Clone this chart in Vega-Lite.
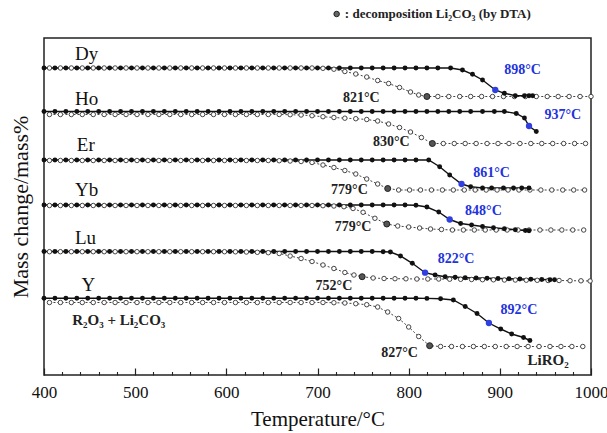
{
"$schema":"https://vega.github.io/schema/vega-lite/v6.json",
"width":547,"height":337,
"autosize":"none",
"padding":{"left":44,"top":38,"right":16,"bottom":58},
"background":"white",
"config":{"view":{"stroke":"#222","strokeWidth":1.5},"axis":{"grid":false},"font":"Liberation Serif"},
"datasets":{
"curves":[
{"s":"Dy","k":"f","t":400,"y":310},{"s":"Dy","k":"f","t":412,"y":310},{"s":"Dy","k":"f","t":424,"y":310},{"s":"Dy","k":"f","t":436,"y":310},{"s":"Dy","k":"f","t":448,"y":310},{"s":"Dy","k":"f","t":460,"y":310},{"s":"Dy","k":"f","t":472,"y":310},{"s":"Dy","k":"f","t":484,"y":310},{"s":"Dy","k":"f","t":496,"y":310},{"s":"Dy","k":"f","t":508,"y":310},{"s":"Dy","k":"f","t":520,"y":310},{"s":"Dy","k":"f","t":532,"y":310},{"s":"Dy","k":"f","t":544,"y":310},{"s":"Dy","k":"f","t":556,"y":310},{"s":"Dy","k":"f","t":568,"y":310},{"s":"Dy","k":"f","t":580,"y":310},{"s":"Dy","k":"f","t":592,"y":310},{"s":"Dy","k":"f","t":604,"y":310},{"s":"Dy","k":"f","t":616,"y":310},{"s":"Dy","k":"f","t":628,"y":310},{"s":"Dy","k":"f","t":640,"y":310},{"s":"Dy","k":"f","t":652,"y":310},{"s":"Dy","k":"f","t":664,"y":310},{"s":"Dy","k":"f","t":676,"y":310},{"s":"Dy","k":"f","t":688,"y":310},{"s":"Dy","k":"f","t":700,"y":310},{"s":"Dy","k":"f","t":712,"y":310},{"s":"Dy","k":"f","t":724,"y":310},{"s":"Dy","k":"f","t":736,"y":310},{"s":"Dy","k":"f","t":748,"y":310},{"s":"Dy","k":"f","t":760,"y":310},{"s":"Dy","k":"f","t":772,"y":310},{"s":"Dy","k":"f","t":784,"y":310},{"s":"Dy","k":"f","t":796,"y":310},{"s":"Dy","k":"f","t":808,"y":310},{"s":"Dy","k":"f","t":820,"y":310},{"s":"Dy","k":"f","t":832,"y":310},{"s":"Dy","k":"f","t":846,"y":310},{"s":"Dy","k":"f","t":859,"y":308},{"s":"Dy","k":"f","t":870,"y":303.7},{"s":"Dy","k":"f","t":881,"y":298},{"s":"Dy","k":"f","t":895,"y":288},{"s":"Dy","k":"f","t":905,"y":284.7},{"s":"Dy","k":"f","t":917,"y":282.3},{"s":"Dy","k":"f","t":927,"y":282.3},{"s":"Dy","k":"f","t":932,"y":282.3},{"s":"Dy","k":"f","t":936,"y":282.3},
{"s":"Dy","k":"o","t":406,"y":310},{"s":"Dy","k":"o","t":418,"y":310},{"s":"Dy","k":"o","t":430,"y":310},{"s":"Dy","k":"o","t":442,"y":310},{"s":"Dy","k":"o","t":454,"y":310},{"s":"Dy","k":"o","t":466,"y":310},{"s":"Dy","k":"o","t":478,"y":310},{"s":"Dy","k":"o","t":490,"y":310},{"s":"Dy","k":"o","t":502,"y":310},{"s":"Dy","k":"o","t":514,"y":310},{"s":"Dy","k":"o","t":526,"y":310},{"s":"Dy","k":"o","t":538,"y":310},{"s":"Dy","k":"o","t":550,"y":310},{"s":"Dy","k":"o","t":562,"y":310},{"s":"Dy","k":"o","t":574,"y":310},{"s":"Dy","k":"o","t":586,"y":310},{"s":"Dy","k":"o","t":598,"y":310},{"s":"Dy","k":"o","t":610,"y":310},{"s":"Dy","k":"o","t":622,"y":310},{"s":"Dy","k":"o","t":634,"y":310},{"s":"Dy","k":"o","t":646,"y":310},{"s":"Dy","k":"o","t":658,"y":310},{"s":"Dy","k":"o","t":670,"y":310},{"s":"Dy","k":"o","t":682,"y":310},{"s":"Dy","k":"o","t":694,"y":310},{"s":"Dy","k":"o","t":706,"y":309.7},{"s":"Dy","k":"o","t":718,"y":308.8},{"s":"Dy","k":"o","t":730,"y":306.5},{"s":"Dy","k":"o","t":742,"y":304},{"s":"Dy","k":"o","t":754,"y":301},{"s":"Dy","k":"o","t":766,"y":297.5},{"s":"Dy","k":"o","t":778,"y":294.5},{"s":"Dy","k":"o","t":790,"y":290.5},{"s":"Dy","k":"o","t":802,"y":286},{"s":"Dy","k":"o","t":811,"y":283},{"s":"Dy","k":"o","t":820,"y":281.5},{"s":"Dy","k":"o","t":832,"y":281.5},{"s":"Dy","k":"o","t":844,"y":281.5},{"s":"Dy","k":"o","t":856,"y":281.5},{"s":"Dy","k":"o","t":868,"y":281.5},{"s":"Dy","k":"o","t":880,"y":281.5},{"s":"Dy","k":"o","t":892,"y":281.5},{"s":"Dy","k":"o","t":904,"y":281.5},{"s":"Dy","k":"o","t":916,"y":281.5},{"s":"Dy","k":"o","t":928,"y":281.5},{"s":"Dy","k":"o","t":940,"y":281.5},{"s":"Dy","k":"o","t":952,"y":281.5},{"s":"Dy","k":"o","t":964,"y":281.5},{"s":"Dy","k":"o","t":976,"y":281.5},{"s":"Dy","k":"o","t":988,"y":281.5},{"s":"Dy","k":"o","t":1000,"y":281.5},
{"s":"Ho","k":"f","t":400,"y":266.5},{"s":"Ho","k":"f","t":412,"y":266.5},{"s":"Ho","k":"f","t":424,"y":266.5},{"s":"Ho","k":"f","t":436,"y":266.5},{"s":"Ho","k":"f","t":448,"y":266.5},{"s":"Ho","k":"f","t":460,"y":266.5},{"s":"Ho","k":"f","t":472,"y":266.5},{"s":"Ho","k":"f","t":484,"y":266.5},{"s":"Ho","k":"f","t":496,"y":266.5},{"s":"Ho","k":"f","t":508,"y":266.5},{"s":"Ho","k":"f","t":520,"y":266.5},{"s":"Ho","k":"f","t":532,"y":266.5},{"s":"Ho","k":"f","t":544,"y":266.5},{"s":"Ho","k":"f","t":556,"y":266.5},{"s":"Ho","k":"f","t":568,"y":266.5},{"s":"Ho","k":"f","t":580,"y":266.5},{"s":"Ho","k":"f","t":592,"y":266.5},{"s":"Ho","k":"f","t":604,"y":266.5},{"s":"Ho","k":"f","t":616,"y":266.5},{"s":"Ho","k":"f","t":628,"y":266.5},{"s":"Ho","k":"f","t":640,"y":266.5},{"s":"Ho","k":"f","t":652,"y":266.5},{"s":"Ho","k":"f","t":664,"y":266.5},{"s":"Ho","k":"f","t":676,"y":266.5},{"s":"Ho","k":"f","t":688,"y":266.5},{"s":"Ho","k":"f","t":700,"y":266.5},{"s":"Ho","k":"f","t":712,"y":266.5},{"s":"Ho","k":"f","t":724,"y":266.5},{"s":"Ho","k":"f","t":736,"y":266.5},{"s":"Ho","k":"f","t":748,"y":266.5},{"s":"Ho","k":"f","t":760,"y":266.5},{"s":"Ho","k":"f","t":772,"y":266.5},{"s":"Ho","k":"f","t":784,"y":266.5},{"s":"Ho","k":"f","t":796,"y":266.5},{"s":"Ho","k":"f","t":808,"y":266.5},{"s":"Ho","k":"f","t":820,"y":266.5},{"s":"Ho","k":"f","t":832,"y":266.5},{"s":"Ho","k":"f","t":844,"y":266.5},{"s":"Ho","k":"f","t":856,"y":266.5},{"s":"Ho","k":"f","t":868,"y":266.5},{"s":"Ho","k":"f","t":881,"y":266.5},{"s":"Ho","k":"f","t":894,"y":266.5},{"s":"Ho","k":"f","t":905,"y":266.5},{"s":"Ho","k":"f","t":918,"y":264.5},{"s":"Ho","k":"f","t":927,"y":260},{"s":"Ho","k":"f","t":932,"y":252},{"s":"Ho","k":"f","t":940,"y":246.5},
{"s":"Ho","k":"o","t":406,"y":263.5},{"s":"Ho","k":"o","t":418,"y":263.5},{"s":"Ho","k":"o","t":430,"y":263.5},{"s":"Ho","k":"o","t":442,"y":263.5},{"s":"Ho","k":"o","t":454,"y":263.5},{"s":"Ho","k":"o","t":466,"y":263.5},{"s":"Ho","k":"o","t":478,"y":263.5},{"s":"Ho","k":"o","t":490,"y":263.5},{"s":"Ho","k":"o","t":502,"y":263.5},{"s":"Ho","k":"o","t":514,"y":263.5},{"s":"Ho","k":"o","t":526,"y":263.5},{"s":"Ho","k":"o","t":538,"y":263.5},{"s":"Ho","k":"o","t":550,"y":263.5},{"s":"Ho","k":"o","t":562,"y":263.5},{"s":"Ho","k":"o","t":574,"y":263.5},{"s":"Ho","k":"o","t":586,"y":263.5},{"s":"Ho","k":"o","t":598,"y":263.5},{"s":"Ho","k":"o","t":610,"y":263.5},{"s":"Ho","k":"o","t":622,"y":263.5},{"s":"Ho","k":"o","t":634,"y":263.5},{"s":"Ho","k":"o","t":646,"y":263.5},{"s":"Ho","k":"o","t":658,"y":263.5},{"s":"Ho","k":"o","t":670,"y":263.3},{"s":"Ho","k":"o","t":682,"y":263},{"s":"Ho","k":"o","t":694,"y":262.3},{"s":"Ho","k":"o","t":706,"y":261.3},{"s":"Ho","k":"o","t":718,"y":260.5},{"s":"Ho","k":"o","t":730,"y":259.8},{"s":"Ho","k":"o","t":742,"y":259.3},{"s":"Ho","k":"o","t":754,"y":258.5},{"s":"Ho","k":"o","t":766,"y":257},{"s":"Ho","k":"o","t":778,"y":254},{"s":"Ho","k":"o","t":790,"y":250.5},{"s":"Ho","k":"o","t":802,"y":246},{"s":"Ho","k":"o","t":814,"y":240.5},{"s":"Ho","k":"o","t":826,"y":234.5},{"s":"Ho","k":"o","t":838,"y":234.5},{"s":"Ho","k":"o","t":850,"y":234.5},{"s":"Ho","k":"o","t":862,"y":234.5},{"s":"Ho","k":"o","t":874,"y":234.5},{"s":"Ho","k":"o","t":886,"y":234.5},{"s":"Ho","k":"o","t":898,"y":234.5},{"s":"Ho","k":"o","t":910,"y":234.5},{"s":"Ho","k":"o","t":922,"y":234.5},{"s":"Ho","k":"o","t":934,"y":234.5},{"s":"Ho","k":"o","t":946,"y":234.5},{"s":"Ho","k":"o","t":958,"y":234.5},{"s":"Ho","k":"o","t":970,"y":234.5},{"s":"Ho","k":"o","t":982,"y":234.5},{"s":"Ho","k":"o","t":994,"y":234.5},
{"s":"Er","k":"f","t":400,"y":218},{"s":"Er","k":"f","t":412,"y":218},{"s":"Er","k":"f","t":424,"y":218},{"s":"Er","k":"f","t":436,"y":218},{"s":"Er","k":"f","t":448,"y":218},{"s":"Er","k":"f","t":460,"y":218},{"s":"Er","k":"f","t":472,"y":218},{"s":"Er","k":"f","t":484,"y":218},{"s":"Er","k":"f","t":496,"y":218},{"s":"Er","k":"f","t":508,"y":218},{"s":"Er","k":"f","t":520,"y":218},{"s":"Er","k":"f","t":532,"y":218},{"s":"Er","k":"f","t":544,"y":218},{"s":"Er","k":"f","t":556,"y":218},{"s":"Er","k":"f","t":568,"y":218},{"s":"Er","k":"f","t":580,"y":218},{"s":"Er","k":"f","t":592,"y":218},{"s":"Er","k":"f","t":604,"y":218},{"s":"Er","k":"f","t":616,"y":218},{"s":"Er","k":"f","t":628,"y":218},{"s":"Er","k":"f","t":640,"y":218},{"s":"Er","k":"f","t":652,"y":218},{"s":"Er","k":"f","t":664,"y":218},{"s":"Er","k":"f","t":676,"y":218},{"s":"Er","k":"f","t":688,"y":218},{"s":"Er","k":"f","t":700,"y":218},{"s":"Er","k":"f","t":712,"y":218},{"s":"Er","k":"f","t":724,"y":218},{"s":"Er","k":"f","t":736,"y":218},{"s":"Er","k":"f","t":748,"y":218},{"s":"Er","k":"f","t":760,"y":218},{"s":"Er","k":"f","t":772,"y":218},{"s":"Er","k":"f","t":784,"y":218},{"s":"Er","k":"f","t":796,"y":218},{"s":"Er","k":"f","t":808,"y":218},{"s":"Er","k":"f","t":822,"y":218},{"s":"Er","k":"f","t":834,"y":211.3},{"s":"Er","k":"f","t":845,"y":203},{"s":"Er","k":"f","t":858,"y":194},{"s":"Er","k":"f","t":868,"y":191.3},{"s":"Er","k":"f","t":881,"y":190},{"s":"Er","k":"f","t":891,"y":190},{"s":"Er","k":"f","t":904,"y":190},{"s":"Er","k":"f","t":915,"y":190},{"s":"Er","k":"f","t":924,"y":190},{"s":"Er","k":"f","t":932,"y":190},
{"s":"Er","k":"o","t":406,"y":217.5},{"s":"Er","k":"o","t":418,"y":217.5},{"s":"Er","k":"o","t":430,"y":217.5},{"s":"Er","k":"o","t":442,"y":217.5},{"s":"Er","k":"o","t":454,"y":217.5},{"s":"Er","k":"o","t":466,"y":217.5},{"s":"Er","k":"o","t":478,"y":217.5},{"s":"Er","k":"o","t":490,"y":217.5},{"s":"Er","k":"o","t":502,"y":217.5},{"s":"Er","k":"o","t":514,"y":217.5},{"s":"Er","k":"o","t":526,"y":217.5},{"s":"Er","k":"o","t":538,"y":217.5},{"s":"Er","k":"o","t":550,"y":217.5},{"s":"Er","k":"o","t":562,"y":217.5},{"s":"Er","k":"o","t":574,"y":217.5},{"s":"Er","k":"o","t":586,"y":217.5},{"s":"Er","k":"o","t":598,"y":217.5},{"s":"Er","k":"o","t":610,"y":217.5},{"s":"Er","k":"o","t":622,"y":217.5},{"s":"Er","k":"o","t":634,"y":217.5},{"s":"Er","k":"o","t":646,"y":217.5},{"s":"Er","k":"o","t":658,"y":217.3},{"s":"Er","k":"o","t":670,"y":217},{"s":"Er","k":"o","t":682,"y":216.5},{"s":"Er","k":"o","t":694,"y":215.5},{"s":"Er","k":"o","t":706,"y":213},{"s":"Er","k":"o","t":718,"y":210.5},{"s":"Er","k":"o","t":730,"y":207.5},{"s":"Er","k":"o","t":742,"y":204},{"s":"Er","k":"o","t":754,"y":199},{"s":"Er","k":"o","t":766,"y":194},{"s":"Er","k":"o","t":777,"y":189.5},{"s":"Er","k":"o","t":789,"y":188},{"s":"Er","k":"o","t":801,"y":188},{"s":"Er","k":"o","t":813,"y":188},{"s":"Er","k":"o","t":825,"y":188},{"s":"Er","k":"o","t":837,"y":188},{"s":"Er","k":"o","t":849,"y":188},{"s":"Er","k":"o","t":861,"y":188},{"s":"Er","k":"o","t":873,"y":188},{"s":"Er","k":"o","t":885,"y":188},{"s":"Er","k":"o","t":897,"y":188},{"s":"Er","k":"o","t":909,"y":188},{"s":"Er","k":"o","t":921,"y":188},{"s":"Er","k":"o","t":933,"y":188},{"s":"Er","k":"o","t":945,"y":188},{"s":"Er","k":"o","t":957,"y":188},{"s":"Er","k":"o","t":969,"y":188},{"s":"Er","k":"o","t":981,"y":188},{"s":"Er","k":"o","t":993,"y":188},
{"s":"Yb","k":"f","t":400,"y":173},{"s":"Yb","k":"f","t":412,"y":173},{"s":"Yb","k":"f","t":424,"y":173},{"s":"Yb","k":"f","t":436,"y":173},{"s":"Yb","k":"f","t":448,"y":173},{"s":"Yb","k":"f","t":460,"y":173},{"s":"Yb","k":"f","t":472,"y":173},{"s":"Yb","k":"f","t":484,"y":173},{"s":"Yb","k":"f","t":496,"y":173},{"s":"Yb","k":"f","t":508,"y":173},{"s":"Yb","k":"f","t":520,"y":173},{"s":"Yb","k":"f","t":532,"y":173},{"s":"Yb","k":"f","t":544,"y":173},{"s":"Yb","k":"f","t":556,"y":173},{"s":"Yb","k":"f","t":568,"y":173},{"s":"Yb","k":"f","t":580,"y":173},{"s":"Yb","k":"f","t":592,"y":173},{"s":"Yb","k":"f","t":604,"y":173},{"s":"Yb","k":"f","t":616,"y":173},{"s":"Yb","k":"f","t":628,"y":173},{"s":"Yb","k":"f","t":640,"y":173},{"s":"Yb","k":"f","t":652,"y":173},{"s":"Yb","k":"f","t":664,"y":173},{"s":"Yb","k":"f","t":676,"y":173},{"s":"Yb","k":"f","t":688,"y":173},{"s":"Yb","k":"f","t":700,"y":173},{"s":"Yb","k":"f","t":712,"y":173},{"s":"Yb","k":"f","t":724,"y":173},{"s":"Yb","k":"f","t":736,"y":173},{"s":"Yb","k":"f","t":748,"y":173},{"s":"Yb","k":"f","t":760,"y":173},{"s":"Yb","k":"f","t":772,"y":173},{"s":"Yb","k":"f","t":784,"y":173},{"s":"Yb","k":"f","t":796,"y":173},{"s":"Yb","k":"f","t":808,"y":172.8},{"s":"Yb","k":"f","t":820,"y":171},{"s":"Yb","k":"f","t":833,"y":166},{"s":"Yb","k":"f","t":845,"y":158.5},{"s":"Yb","k":"f","t":857,"y":154.5},{"s":"Yb","k":"f","t":869,"y":153},{"s":"Yb","k":"f","t":881,"y":151.5},{"s":"Yb","k":"f","t":893,"y":150.3},{"s":"Yb","k":"f","t":905,"y":149.3},{"s":"Yb","k":"f","t":917,"y":148.3},{"s":"Yb","k":"f","t":928,"y":147.5},{"s":"Yb","k":"f","t":932,"y":147.3},
{"s":"Yb","k":"o","t":406,"y":172.5},{"s":"Yb","k":"o","t":418,"y":172.5},{"s":"Yb","k":"o","t":430,"y":172.5},{"s":"Yb","k":"o","t":442,"y":172.5},{"s":"Yb","k":"o","t":454,"y":172.5},{"s":"Yb","k":"o","t":466,"y":172.5},{"s":"Yb","k":"o","t":478,"y":172.5},{"s":"Yb","k":"o","t":490,"y":172.5},{"s":"Yb","k":"o","t":502,"y":172.5},{"s":"Yb","k":"o","t":514,"y":172.5},{"s":"Yb","k":"o","t":526,"y":172.5},{"s":"Yb","k":"o","t":538,"y":172.5},{"s":"Yb","k":"o","t":550,"y":172.5},{"s":"Yb","k":"o","t":562,"y":172.5},{"s":"Yb","k":"o","t":574,"y":172.5},{"s":"Yb","k":"o","t":586,"y":172.5},{"s":"Yb","k":"o","t":598,"y":172.5},{"s":"Yb","k":"o","t":610,"y":172.5},{"s":"Yb","k":"o","t":622,"y":172.5},{"s":"Yb","k":"o","t":634,"y":172.5},{"s":"Yb","k":"o","t":646,"y":172.5},{"s":"Yb","k":"o","t":658,"y":172.5},{"s":"Yb","k":"o","t":670,"y":172.5},{"s":"Yb","k":"o","t":682,"y":172.5},{"s":"Yb","k":"o","t":694,"y":172.5},{"s":"Yb","k":"o","t":706,"y":172.3},{"s":"Yb","k":"o","t":718,"y":172},{"s":"Yb","k":"o","t":729,"y":171.3},{"s":"Yb","k":"o","t":739,"y":169.5},{"s":"Yb","k":"o","t":750,"y":165.7},{"s":"Yb","k":"o","t":763,"y":159.7},{"s":"Yb","k":"o","t":776,"y":154},{"s":"Yb","k":"o","t":788,"y":152},{"s":"Yb","k":"o","t":800,"y":151},{"s":"Yb","k":"o","t":812,"y":150},{"s":"Yb","k":"o","t":824,"y":149},{"s":"Yb","k":"o","t":836,"y":148.5},{"s":"Yb","k":"o","t":848,"y":148},{"s":"Yb","k":"o","t":860,"y":148},{"s":"Yb","k":"o","t":872,"y":148},{"s":"Yb","k":"o","t":884,"y":148},{"s":"Yb","k":"o","t":896,"y":148},{"s":"Yb","k":"o","t":908,"y":148},{"s":"Yb","k":"o","t":920,"y":148},{"s":"Yb","k":"o","t":932,"y":148},{"s":"Yb","k":"o","t":944,"y":148},{"s":"Yb","k":"o","t":956,"y":148},{"s":"Yb","k":"o","t":968,"y":148},{"s":"Yb","k":"o","t":980,"y":148},{"s":"Yb","k":"o","t":992,"y":148},
{"s":"Lu","k":"f","t":400,"y":126.5},{"s":"Lu","k":"f","t":412,"y":126.5},{"s":"Lu","k":"f","t":424,"y":126.5},{"s":"Lu","k":"f","t":436,"y":126.5},{"s":"Lu","k":"f","t":448,"y":126.5},{"s":"Lu","k":"f","t":460,"y":126.5},{"s":"Lu","k":"f","t":472,"y":126.5},{"s":"Lu","k":"f","t":484,"y":126.5},{"s":"Lu","k":"f","t":496,"y":126.5},{"s":"Lu","k":"f","t":508,"y":126.5},{"s":"Lu","k":"f","t":520,"y":126.5},{"s":"Lu","k":"f","t":532,"y":126.5},{"s":"Lu","k":"f","t":544,"y":126.5},{"s":"Lu","k":"f","t":556,"y":126.5},{"s":"Lu","k":"f","t":568,"y":126.5},{"s":"Lu","k":"f","t":580,"y":126.5},{"s":"Lu","k":"f","t":592,"y":126.5},{"s":"Lu","k":"f","t":604,"y":126.5},{"s":"Lu","k":"f","t":616,"y":126.5},{"s":"Lu","k":"f","t":628,"y":126.5},{"s":"Lu","k":"f","t":640,"y":126.5},{"s":"Lu","k":"f","t":652,"y":126.5},{"s":"Lu","k":"f","t":664,"y":126.5},{"s":"Lu","k":"f","t":676,"y":126.5},{"s":"Lu","k":"f","t":688,"y":126.5},{"s":"Lu","k":"f","t":700,"y":126.5},{"s":"Lu","k":"f","t":712,"y":126.5},{"s":"Lu","k":"f","t":724,"y":126.5},{"s":"Lu","k":"f","t":736,"y":126.5},{"s":"Lu","k":"f","t":748,"y":126.5},{"s":"Lu","k":"f","t":760,"y":126.5},{"s":"Lu","k":"f","t":772,"y":126.3},{"s":"Lu","k":"f","t":780,"y":126},{"s":"Lu","k":"f","t":791,"y":122},{"s":"Lu","k":"f","t":804,"y":114.7},{"s":"Lu","k":"f","t":818,"y":105.3},{"s":"Lu","k":"f","t":829,"y":103},{"s":"Lu","k":"f","t":840,"y":101.3},{"s":"Lu","k":"f","t":851,"y":100.7},{"s":"Lu","k":"f","t":862,"y":100.3},{"s":"Lu","k":"f","t":874,"y":100},{"s":"Lu","k":"f","t":886,"y":99.7},{"s":"Lu","k":"f","t":898,"y":99.5},{"s":"Lu","k":"f","t":910,"y":99.2},{"s":"Lu","k":"f","t":922,"y":99},{"s":"Lu","k":"f","t":934,"y":98.7},{"s":"Lu","k":"f","t":946,"y":98.5},{"s":"Lu","k":"f","t":955,"y":98.3},{"s":"Lu","k":"f","t":960,"y":98.3},
{"s":"Lu","k":"o","t":406,"y":126.3},{"s":"Lu","k":"o","t":418,"y":126.3},{"s":"Lu","k":"o","t":430,"y":126.3},{"s":"Lu","k":"o","t":442,"y":126.3},{"s":"Lu","k":"o","t":454,"y":126.3},{"s":"Lu","k":"o","t":466,"y":126.3},{"s":"Lu","k":"o","t":478,"y":126.3},{"s":"Lu","k":"o","t":490,"y":126.3},{"s":"Lu","k":"o","t":502,"y":126.3},{"s":"Lu","k":"o","t":514,"y":126.3},{"s":"Lu","k":"o","t":526,"y":126.3},{"s":"Lu","k":"o","t":538,"y":126.3},{"s":"Lu","k":"o","t":550,"y":126.3},{"s":"Lu","k":"o","t":562,"y":126.3},{"s":"Lu","k":"o","t":574,"y":126.3},{"s":"Lu","k":"o","t":586,"y":126.3},{"s":"Lu","k":"o","t":598,"y":126.3},{"s":"Lu","k":"o","t":610,"y":126.2},{"s":"Lu","k":"o","t":622,"y":126},{"s":"Lu","k":"o","t":634,"y":125.7},{"s":"Lu","k":"o","t":646,"y":125.3},{"s":"Lu","k":"o","t":658,"y":124.5},{"s":"Lu","k":"o","t":670,"y":122},{"s":"Lu","k":"o","t":682,"y":119.5},{"s":"Lu","k":"o","t":694,"y":116.5},{"s":"Lu","k":"o","t":706,"y":113},{"s":"Lu","k":"o","t":718,"y":109.5},{"s":"Lu","k":"o","t":730,"y":105.5},{"s":"Lu","k":"o","t":740,"y":103},{"s":"Lu","k":"o","t":749,"y":101.3},{"s":"Lu","k":"o","t":761,"y":100},{"s":"Lu","k":"o","t":773,"y":99.5},{"s":"Lu","k":"o","t":785,"y":99.3},{"s":"Lu","k":"o","t":797,"y":99.2},{"s":"Lu","k":"o","t":809,"y":99},{"s":"Lu","k":"o","t":821,"y":99},{"s":"Lu","k":"o","t":833,"y":99},{"s":"Lu","k":"o","t":845,"y":98.8},{"s":"Lu","k":"o","t":857,"y":98.7},{"s":"Lu","k":"o","t":869,"y":98.5},{"s":"Lu","k":"o","t":881,"y":98.3},{"s":"Lu","k":"o","t":893,"y":98.2},{"s":"Lu","k":"o","t":905,"y":98},{"s":"Lu","k":"o","t":917,"y":98},{"s":"Lu","k":"o","t":929,"y":97.8},{"s":"Lu","k":"o","t":941,"y":97.7},{"s":"Lu","k":"o","t":953,"y":97.5},{"s":"Lu","k":"o","t":965,"y":97.5},{"s":"Lu","k":"o","t":977,"y":97.3},{"s":"Lu","k":"o","t":989,"y":97.2},{"s":"Lu","k":"o","t":999,"y":97},
{"s":"Y","k":"f","t":400,"y":79.7},{"s":"Y","k":"f","t":412,"y":79.7},{"s":"Y","k":"f","t":424,"y":79.7},{"s":"Y","k":"f","t":436,"y":79.7},{"s":"Y","k":"f","t":448,"y":79.7},{"s":"Y","k":"f","t":460,"y":79.7},{"s":"Y","k":"f","t":472,"y":79.7},{"s":"Y","k":"f","t":484,"y":79.7},{"s":"Y","k":"f","t":496,"y":79.7},{"s":"Y","k":"f","t":508,"y":79.7},{"s":"Y","k":"f","t":520,"y":79.7},{"s":"Y","k":"f","t":532,"y":79.7},{"s":"Y","k":"f","t":544,"y":79.7},{"s":"Y","k":"f","t":556,"y":79.7},{"s":"Y","k":"f","t":568,"y":79.7},{"s":"Y","k":"f","t":580,"y":79.7},{"s":"Y","k":"f","t":592,"y":79.7},{"s":"Y","k":"f","t":604,"y":79.7},{"s":"Y","k":"f","t":616,"y":79.7},{"s":"Y","k":"f","t":628,"y":79.7},{"s":"Y","k":"f","t":640,"y":79.7},{"s":"Y","k":"f","t":652,"y":79.7},{"s":"Y","k":"f","t":664,"y":79.7},{"s":"Y","k":"f","t":676,"y":79.7},{"s":"Y","k":"f","t":688,"y":79.7},{"s":"Y","k":"f","t":700,"y":79.7},{"s":"Y","k":"f","t":712,"y":79.7},{"s":"Y","k":"f","t":724,"y":79.7},{"s":"Y","k":"f","t":736,"y":79.7},{"s":"Y","k":"f","t":748,"y":79.7},{"s":"Y","k":"f","t":760,"y":79.7},{"s":"Y","k":"f","t":772,"y":79.7},{"s":"Y","k":"f","t":784,"y":79.7},{"s":"Y","k":"f","t":796,"y":79.7},{"s":"Y","k":"f","t":808,"y":79.7},{"s":"Y","k":"f","t":820,"y":79.6},{"s":"Y","k":"f","t":835,"y":79.3},{"s":"Y","k":"f","t":849,"y":78},{"s":"Y","k":"f","t":862,"y":71.5},{"s":"Y","k":"f","t":875,"y":64.5},{"s":"Y","k":"f","t":888,"y":55},{"s":"Y","k":"f","t":901,"y":49},{"s":"Y","k":"f","t":913,"y":44},{"s":"Y","k":"f","t":926,"y":40.5},{"s":"Y","k":"f","t":933,"y":37.5},
{"s":"Y","k":"o","t":406,"y":75.5},{"s":"Y","k":"o","t":418,"y":75.5},{"s":"Y","k":"o","t":430,"y":75.5},{"s":"Y","k":"o","t":442,"y":75.5},{"s":"Y","k":"o","t":454,"y":75.5},{"s":"Y","k":"o","t":466,"y":75.5},{"s":"Y","k":"o","t":478,"y":75.5},{"s":"Y","k":"o","t":490,"y":75.5},{"s":"Y","k":"o","t":502,"y":75.5},{"s":"Y","k":"o","t":514,"y":75.5},{"s":"Y","k":"o","t":526,"y":75.5},{"s":"Y","k":"o","t":538,"y":75.5},{"s":"Y","k":"o","t":550,"y":75.5},{"s":"Y","k":"o","t":562,"y":75.5},{"s":"Y","k":"o","t":574,"y":75.5},{"s":"Y","k":"o","t":586,"y":75.5},{"s":"Y","k":"o","t":598,"y":75.5},{"s":"Y","k":"o","t":610,"y":75.5},{"s":"Y","k":"o","t":622,"y":75.5},{"s":"Y","k":"o","t":634,"y":75.5},{"s":"Y","k":"o","t":646,"y":75.5},{"s":"Y","k":"o","t":658,"y":75.5},{"s":"Y","k":"o","t":670,"y":75.5},{"s":"Y","k":"o","t":682,"y":75.5},{"s":"Y","k":"o","t":694,"y":75.5},{"s":"Y","k":"o","t":706,"y":75.5},{"s":"Y","k":"o","t":718,"y":75.3},{"s":"Y","k":"o","t":730,"y":75},{"s":"Y","k":"o","t":742,"y":74.3},{"s":"Y","k":"o","t":754,"y":73.3},{"s":"Y","k":"o","t":766,"y":71},{"s":"Y","k":"o","t":777,"y":66},{"s":"Y","k":"o","t":789,"y":59.5},{"s":"Y","k":"o","t":800,"y":51},{"s":"Y","k":"o","t":811,"y":41.5},{"s":"Y","k":"o","t":823,"y":32.3},{"s":"Y","k":"o","t":835,"y":31.5},{"s":"Y","k":"o","t":847,"y":31.5},{"s":"Y","k":"o","t":859,"y":31.5},{"s":"Y","k":"o","t":871,"y":31.5},{"s":"Y","k":"o","t":883,"y":31.5},{"s":"Y","k":"o","t":895,"y":31.5},{"s":"Y","k":"o","t":907,"y":31.5},{"s":"Y","k":"o","t":919,"y":31.5},{"s":"Y","k":"o","t":931,"y":31.5},{"s":"Y","k":"o","t":943,"y":31.5},{"s":"Y","k":"o","t":955,"y":31.5},{"s":"Y","k":"o","t":967,"y":31.5},{"s":"Y","k":"o","t":979,"y":31.5},{"s":"Y","k":"o","t":991,"y":31.5}
],
"inflection":[{"s":"Dy","t":895,"y":288},{"s":"Ho","t":932,"y":252},{"s":"Er","t":858,"y":194},{"s":"Yb","t":845,"y":158.5},{"s":"Lu","t":818,"y":105.3},{"s":"Y","t":888,"y":55}],
"decomposition":[{"s":"Dy","t":820,"y":281.5},{"s":"Ho","t":826,"y":234.5},{"s":"Er","t":777,"y":189.5},{"s":"Yb","t":776,"y":154},{"s":"Lu","t":749,"y":101.3},{"s":"Y","t":823,"y":32.3}],
"names":[{"txt":"Dy","t":434,"y":324},{"txt":"Ho","t":434,"y":279},{"txt":"Er","t":436,"y":233},{"txt":"Yb","t":434,"y":188},{"txt":"Lu","t":434,"y":140},{"txt":"Y","t":441,"y":93}],
"temps":[
{"txt":"898°C","kind":"inflection","t":925,"y":308},{"txt":"937°C","kind":"inflection","t":969,"y":263},{"txt":"861°C","kind":"inflection","t":891,"y":205},{"txt":"848°C","kind":"inflection","t":882,"y":167},{"txt":"822°C","kind":"inflection","t":852,"y":119},{"txt":"892°C","kind":"inflection","t":921,"y":68},
{"txt":"821°C","kind":"decomposition","t":748,"y":280},{"txt":"830°C","kind":"decomposition","t":781,"y":236},{"txt":"779°C","kind":"decomposition","t":735,"y":188},{"txt":"779°C","kind":"decomposition","t":739,"y":151},{"txt":"752°C","kind":"decomposition","t":718,"y":92},{"txt":"827°C","kind":"decomposition","t":790,"y":25}
],
"notes":[{"txt":"R₂O₃ + Li₂CO₃","t":482,"y":58},{"txt":"LiRO₂","t":953,"y":18}],
"legend":[{"txt":": decomposition Li₂CO₃ (by DTA)","t":730,"y":364}],
"legendDot":[{"t":721,"y":364}]
},
"layer":[
{"data":{"name":"curves"},"transform":[{"filter":"datum.k === 'o'"}],
 "mark":{"type":"line","color":"#444","strokeWidth":1,"strokeDash":[2,2]},
 "encoding":{
  "x":{"field":"t","type":"quantitative","scale":{"domain":[400,1000],"nice":false,"zero":false},
   "axis":{"values":[400,500,600,700,800,900,1000],"format":"d","title":"Temperature/°C","domain":false,"tickSize":-7,"tickColor":"#222","tickWidth":1.2,"labelPadding":16,"labelFont":"Liberation Serif","labelFontSize":17,"labelColor":"#111","labelFlush":false,"labelOverlap":false,"titleFont":"Liberation Serif","titleFontSize":21,"titleFontWeight":"normal","titleColor":"#111","titlePadding":8,"orient":"bottom"}},
  "y":{"field":"y","type":"quantitative","scale":{"domain":[3,340],"nice":false,"zero":false},
   "axis":{"title":"Mass change/mass%","domain":false,"ticks":false,"labels":false,"minExtent":0,"titleFont":"Liberation Serif","titleFontSize":22,"titleFontWeight":"normal","titleColor":"#111","titlePadding":12,"orient":"left"}},
  "detail":{"field":"s"},
  "order":{"field":"t","type":"quantitative"}}},
{"data":{"name":"curves"},"transform":[{"filter":"datum.k === 'f'"}],
 "mark":{"type":"line","color":"#111","strokeWidth":1.4},
 "encoding":{
  "x":{"field":"t","type":"quantitative","axis":null},
  "y":{"field":"y","type":"quantitative","axis":null},
  "detail":{"field":"s"},
  "order":{"field":"t","type":"quantitative"}}},
{"data":{"name":"curves"},"transform":[{"filter":"datum.k === 'o'"}],
 "mark":{"type":"point","shape":"circle","filled":true,"fill":"white","stroke":"#333","strokeWidth":0.9,"size":20,"opacity":1},
 "encoding":{"x":{"field":"t","type":"quantitative","axis":null},"y":{"field":"y","type":"quantitative","axis":null}}},
{"data":{"name":"curves"},"transform":[{"filter":"datum.k === 'f'"}],
 "mark":{"type":"point","shape":"circle","filled":true,"color":"#111","size":24,"opacity":1},
 "encoding":{"x":{"field":"t","type":"quantitative","axis":null},"y":{"field":"y","type":"quantitative","axis":null}}},
{"data":{"name":"inflection"},
 "mark":{"type":"point","shape":"circle","filled":true,"color":"#2f3fe0","size":40,"opacity":1},
 "encoding":{"x":{"field":"t","type":"quantitative","axis":null},"y":{"field":"y","type":"quantitative","axis":null}}},
{"data":{"name":"decomposition"},
 "mark":{"type":"point","shape":"circle","filled":true,"fill":"#555","stroke":"#222","strokeWidth":1,"size":36,"opacity":1},
 "encoding":{"x":{"field":"t","type":"quantitative","axis":null},"y":{"field":"y","type":"quantitative","axis":null}}},
{"data":{"name":"names"},
 "mark":{"type":"text","align":"left","baseline":"middle","font":"Liberation Serif","fontSize":19,"color":"#111"},
 "encoding":{"x":{"field":"t","type":"quantitative","axis":null},"y":{"field":"y","type":"quantitative","axis":null},"text":{"field":"txt"}}},
{"data":{"name":"temps"},
 "mark":{"type":"text","align":"center","baseline":"middle","font":"Liberation Serif","fontSize":14,"fontWeight":"bold"},
 "encoding":{"x":{"field":"t","type":"quantitative","axis":null},"y":{"field":"y","type":"quantitative","axis":null},"text":{"field":"txt"},
  "color":{"field":"kind","type":"nominal","scale":{"domain":["inflection","decomposition"],"range":["#2233dd","#222222"]},"legend":null}}},
{"data":{"name":"notes"},
 "mark":{"type":"text","align":"center","baseline":"middle","font":"Liberation Serif","fontSize":15,"fontWeight":"bold","color":"#222"},
 "encoding":{"x":{"field":"t","type":"quantitative","axis":null},"y":{"field":"y","type":"quantitative","axis":null},"text":{"field":"txt"}}},
{"data":{"name":"legend"},
 "mark":{"type":"text","align":"left","baseline":"middle","font":"Liberation Serif","fontSize":13,"fontWeight":"bold","color":"#222"},
 "encoding":{"x":{"field":"t","type":"quantitative","axis":null},"y":{"field":"y","type":"quantitative","axis":null},"text":{"field":"txt"}}},
{"data":{"name":"legendDot"},
 "mark":{"type":"point","shape":"circle","filled":true,"fill":"#666","stroke":"#222","strokeWidth":1,"size":30,"opacity":1},
 "encoding":{"x":{"field":"t","type":"quantitative",
   "axis":{"values":[420,440,460,480,520,540,560,580,620,640,660,680,720,740,760,780,820,840,860,880,920,940,960,980],"labels":false,"domain":false,"title":null,"tickSize":-3.5,"tickColor":"#222","tickWidth":1.1,"orient":"bottom"}},
  "y":{"field":"y","type":"quantitative","axis":null}}}
],
"resolve":{"axis":{"x":"independent","y":"independent"}}
}
